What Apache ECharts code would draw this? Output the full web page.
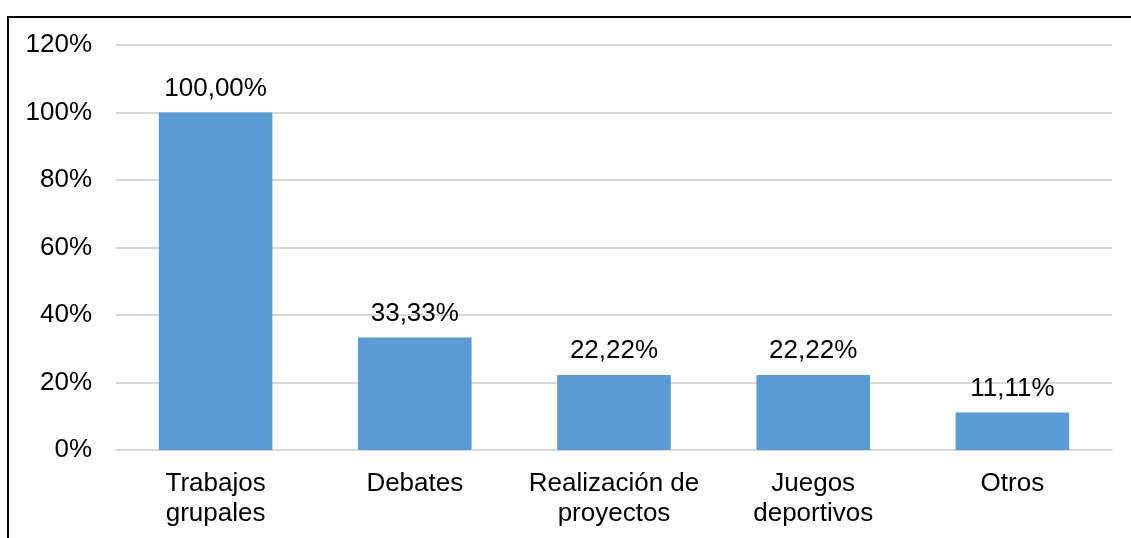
<!DOCTYPE html>
<html><head><meta charset="utf-8">
<script src="https://cdn.jsdelivr.net/npm/echarts@6/dist/echarts.min.js"></script>
<style>
html,body{margin:0;padding:0;background:#fff;overflow:hidden}
#frame{position:absolute;left:7px;top:16px;width:1200px;height:600px;border-top:2px solid #000;border-left:2px solid #000;box-sizing:border-box}
#c{position:absolute;left:0;top:0;width:1131px;height:538px}
</style></head>
<body>
<div id="frame"></div>
<div id="c"></div>
<script>
const categories = ['Trabajos\ngrupales', 'Debates', 'Realización de\nproyectos', 'Juegos\ndeportivos', 'Otros'];
const values = [100.00, 33.33, 22.22, 22.22, 11.11];
const yTicks = [0, 20, 40, 60, 80, 100, 120];

const chart = echarts.init(document.getElementById('c'), null, {renderer: 'canvas'});
const font = '"Liberation Sans", Arial, sans-serif';
chart.setOption({
  animation: false,
  grid: {left: 116, right: 19, top: 45, bottom: 88},
  xAxis: {
    type: 'category',
    data: categories,
    axisLine: {lineStyle: {color: '#d9d9d9', width: 2}},
    axisTick: {show: false},
    axisLabel: {color: '#000', fontFamily: font, fontSize: 26, lineHeight: 30, margin: 19, interval: 0}
  },
  yAxis: {
    type: 'value',
    min: yTicks[0], max: yTicks[yTicks.length - 1], interval: 20,
    axisLine: {show: false},
    axisTick: {show: false},
    splitLine: {lineStyle: {color: '#d9d9d9', width: 2}},
    axisLabel: {color: '#000', fontFamily: font, fontSize: 26, margin: 24, formatter: v => v + '%'}
  },
  series: [{
    type: 'bar',
    data: values,
    barWidth: '57%',
    itemStyle: {color: '#5b9bd5'},
    label: {
      show: true, position: 'top', distance: 11,
      color: '#000', fontFamily: font, fontSize: 26,
      formatter: p => p.value.toFixed(2).replace('.', ',') + '%'
    }
  }]
});
</script>
</body></html>
